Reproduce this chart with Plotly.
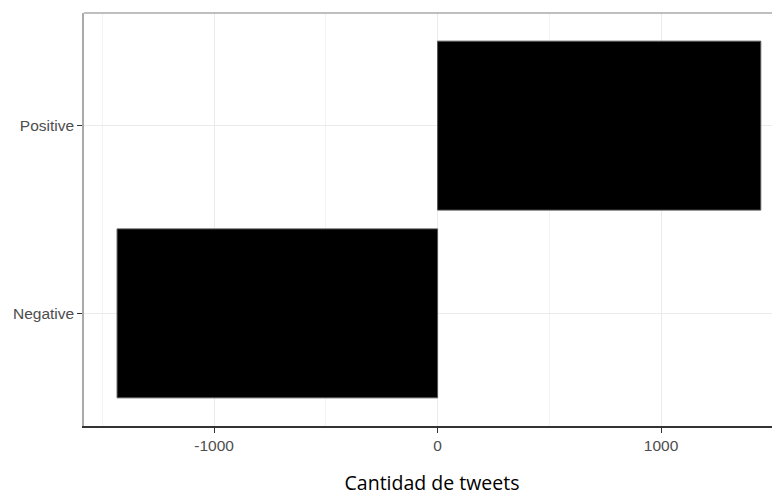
import plotly.graph_objects as go

categories = ["Negative", "Positive"]
counts = [-1434, 1446]
x_ticks = [-1000, 0, 1000]
x_tick_labels = ["-1000", "0", "1000"]

fig = go.Figure()
fig.add_trace(go.Bar(
    y=categories, x=counts, orientation="h", width=0.9,
    marker=dict(color="black", line=dict(color="#555555", width=1)),
    showlegend=False,
))

fig.update_layout(
    width=772, height=488,
    margin=dict(l=76, r=0, t=5, b=70),
    paper_bgcolor="white", plot_bgcolor="white",
    bargap=0.1,
    xaxis=dict(
        range=[-1582, 1532],
        automargin=False,
        tickvals=x_ticks, ticktext=x_tick_labels,
        ticks="outside", ticklen=5, tickcolor="#333333", tickwidth=1,
        tickfont=dict(family="Arial", size=15.5, color="#4d4d4d"),
        showgrid=True, gridcolor="#ebebeb", gridwidth=1.2,
        minor=dict(tickvals=[-1500, -500, 500, 1500], showgrid=True,
                   gridcolor="#f3f3f3", gridwidth=0.8),
        showline=True, linecolor="#333333", linewidth=1.5, mirror=False,
        zeroline=False,
        title=dict(text="Cantidad de tweets",
                   font=dict(family="Open Sans", size=19.5, color="black"),
                   standoff=30),
    ),
    yaxis=dict(
        range=[-0.6, 1.6],
        categoryorder="array", categoryarray=categories,
        ticks="outside", ticklen=5, tickcolor="#333333", tickwidth=1,
        tickfont=dict(family="Arial", size=15.5, color="#4d4d4d"),
        showgrid=True, gridcolor="#ebebeb", gridwidth=1.2,
        showline=True, linecolor="#aaaaaa", linewidth=1.5,
        zeroline=False,
    ),
    shapes=[dict(type="line", xref="paper", yref="paper", x0=0, x1=1, y0=1, y1=1,
                 line=dict(color="#aaaaaa", width=1.5))],
)

fig.write_html("out.html")
